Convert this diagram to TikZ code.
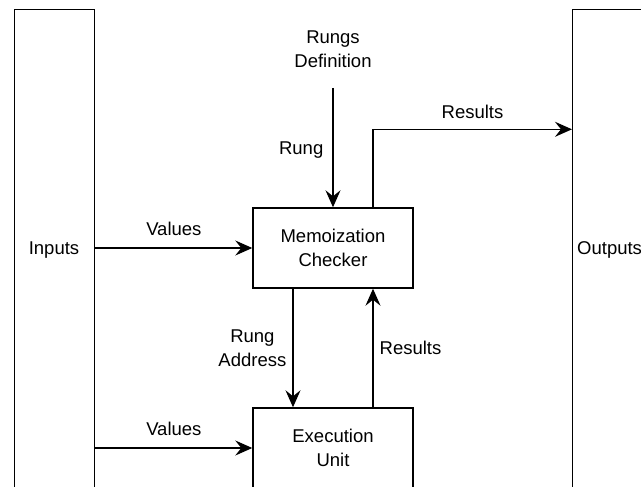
\documentclass[tikz,border=0pt]{standalone}
\usepackage{fontspec}
\setmainfont{Liberation Sans}
\usetikzlibrary{arrows.meta}
\begin{document}
\begin{tikzpicture}[x=1pt,y=-1pt,
  font=\fontsize{18.5}{23.5}\selectfont,
  line width=1.4pt,
  block/.style={draw, minimum width=160pt, minimum height=80pt, align=center, inner sep=0pt},
  arr/.style={draw, -{Stealth[length=17pt,width=15pt,inset=6pt]}},
  lbl/.style={align=center, inner sep=0pt}]
  \useasboundingbox (0,0) rectangle (641,487);
  \clip (0,0) rectangle (641,487);

  % side panels (run past the lower edge)
  \node[draw, minimum width=80pt, minimum height=540pt, anchor=north west, inner sep=0pt] (inputs) at (14,9) {};
  \node at (54,250) (intxt) {Inputs};
  \node[draw, minimum width=120pt, minimum height=540pt, anchor=north west, inner sep=0pt] (outputs) at (572,9) {};
  \node[anchor=west, inner sep=0pt] at (576.5,250) (outtxt) {Outputs};

  % processing blocks
  \node[block] (memo) at (333,248) {Memoization\\Checker};
  \node[block] (exec) at (333,448) {Execution\\Unit};

  % source of the rung definitions
  \node[lbl] (rdef) at (333,49) {Rungs\\Definition};
  \coordinate (rtop) at (333,88);

  % connectors
  \draw[arr] (rtop) -- (memo.north) node[lbl, midway, left=9pt, yshift=-2pt] {Rung};
  \draw[arr] (inputs.east |- memo.west) -- (memo.west)
     node[lbl, midway, above=12pt] {Values};
  \draw[arr] (inputs.east |- exec.west) -- (exec.west)
     node[lbl, midway, above=12pt] {Values};
  \coordinate (mres) at ([xshift=40pt]memo.north);
  \coordinate (corner) at ([xshift=40pt,yshift=78pt]memo.north);
  \draw[arr] (mres) -- (corner) -- (outputs.west |- corner)
     node[lbl, pos=0.5, above=10pt] (restxt) {Results};
  \draw[arr] ([xshift=-40pt]memo.south) -- ([xshift=-40pt]exec.north)
     node[lbl, midway, left=6pt] {Rung\\Address};
  \draw[arr] ([xshift=40pt]exec.north) -- ([xshift=40pt]memo.south)
     node[lbl, midway, right=6pt] {Results};
\end{tikzpicture}
\end{document}
